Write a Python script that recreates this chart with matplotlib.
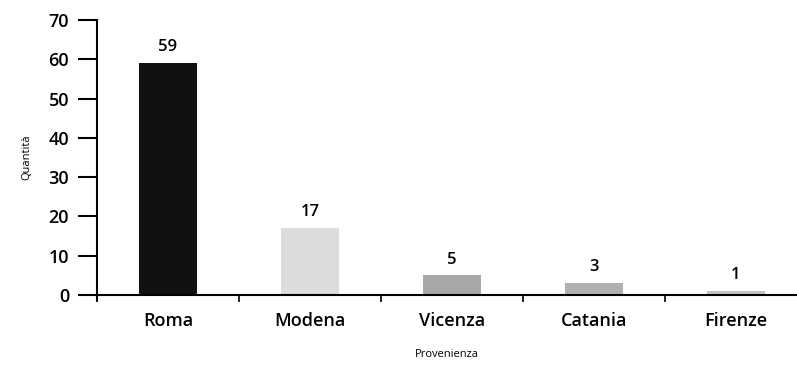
import numpy as np
import matplotlib.pyplot as plt

plt.rcParams['font.family'] = ['Open Sans', 'DejaVu Sans']

citta = ['Roma', 'Modena', 'Vicenza', 'Catania', 'Firenze']
quantita = [59, 17, 5, 3, 1]
colori = ['#111111', '#dcdcdc', '#a8a8a8', '#b0b0b0', '#c4c4c4']

fig = plt.figure(figsize=(7.97, 3.67), dpi=100)
ax = fig.add_axes([97 / 797, 72 / 367, 1 - 97 / 797, 275 / 367])

x = np.arange(len(citta))
ax.bar(x, quantita, width=0.41, color=colori, zorder=2)
for xi, q in zip(x, quantita):
    ax.text(xi, q + 2, str(q), ha='center', va='bottom', fontsize=12, fontweight='semibold')

ax.set_xlim(-0.5, -0.5 + 700 / 142)
ax.set_ylim(0, 70)
ax.set_yticks(range(0, 71, 10))
ax.set_xticks(x)
ax.set_xticklabels(citta)
ax.set_xticks(np.arange(len(citta)) - 0.5, minor=True)

ax.spines['top'].set_visible(False)
ax.spines['right'].set_visible(False)
ax.spines['left'].set_bounds(-1.2, 70)
ax.spines['left'].set_linewidth(1.5)
ax.spines['bottom'].set_linewidth(1.5)

ax.tick_params(axis='y', length=14, width=1.5, pad=6, labelsize=13)
ax.tick_params(axis='x', which='major', length=0, pad=12, labelsize=13)
ax.tick_params(axis='x', which='minor', length=5, width=1.2)
for lab in ax.get_xticklabels() + ax.get_yticklabels():
    lab.set_fontweight('semibold')

ax.set_ylabel('Quantità', fontsize=8, labelpad=12)
ax.set_xlabel('Provenienza', fontsize=8, labelpad=14)

fig.savefig('out.png', dpi=100)
